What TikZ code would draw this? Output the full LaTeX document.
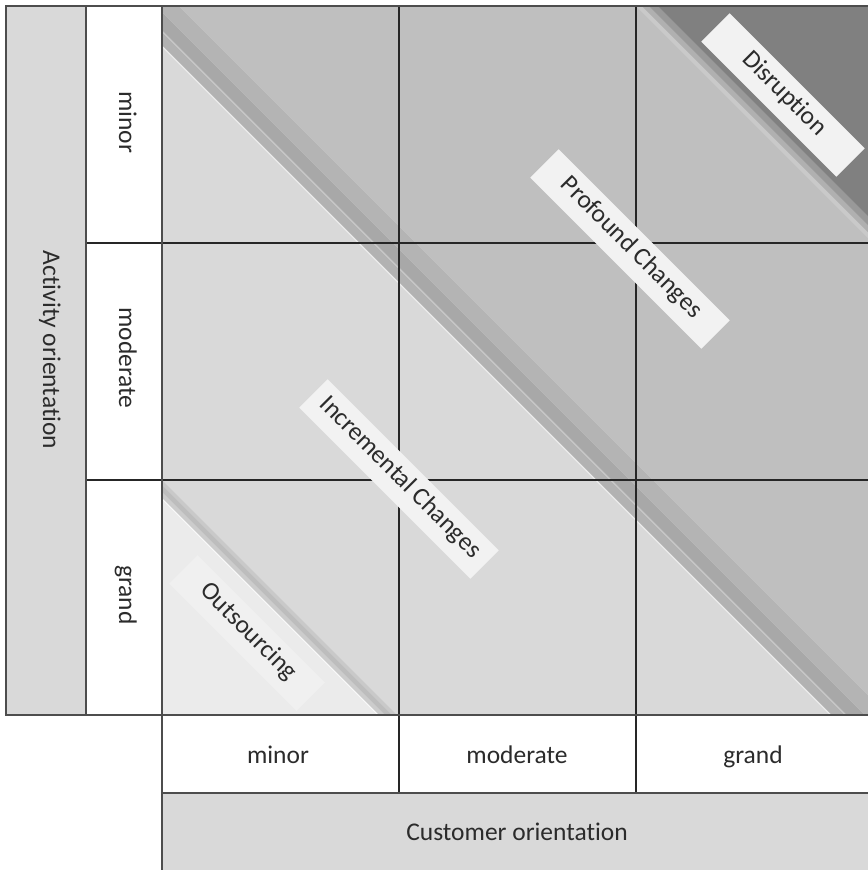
\documentclass[tikz,border=0pt]{standalone}
\usepackage{fontspec}
\setmainfont{Carlito}[Ligatures=NoCommon]
\usepackage{tikz}
\usetikzlibrary{positioning}
\definecolor{lowgray}{HTML}{D9D9D9}
\definecolor{upgray}{HTML}{BFBFBF}
\definecolor{outgray}{HTML}{EBEBEB}
\definecolor{outbox}{HTML}{F0F0F0}
\definecolor{boxgray}{HTML}{F2F2F2}
\definecolor{framegray}{HTML}{4D4D4D}
\definecolor{txtgray}{HTML}{2B2B2B}
\newcommand\diagband[3]{%
\fill[#3] (-1000,{-1000-#1}) -- (2000,{2000-#1}) -- (2000,{2000-#2}) -- (-1000,{-1000-#2}) -- cycle;
}

\begin{document}
\begin{tikzpicture}[x={(0.02cm,0)},y={(0,-0.02cm)},
	every node/.style={font=\fontsize{14.5}{17}\selectfont,text=txtgray,text height=1.6ex,text depth=0.45ex},
	frameline/.style={draw=framegray,line width=1.1pt},
	cellline/.style={draw=black!85,line width=0.9pt},
	tagbox/.style={fill=boxgray,rotate=-45,minimum height=0.8cm,inner sep=0pt}]
	%% pixel units, y pointing down
	\useasboundingbox (0,0) rectangle (868,870);
	
	% axis bars
	\fill[lowgray] (6,6) rectangle (86,715);
	\fill[white] (86,6) rectangle (162,715);
	\fill[white] (162,715) rectangle (868,793);
	\fill[lowgray] (162,793) rectangle (868,870);
	
	% matrix shading along the diagonals
	\begin{scope}
	\clip (162,6) rectangle (868,715);
	\fill[lowgray] (162,6) rectangle (868,715);
	\diagband{115}{117}{gray!15}
	\diagband{117}{130}{gray!60}
	\diagband{130}{132}{gray!45}
	\diagband{132}{150}{gray!68}
	\diagband{150}{173}{gray!59}
	\diagband{173}{3000}{upgray}
	% disruption corner
	\diagband{630}{636}{gray!42}
	\diagband{636}{643}{gray!62}
	\diagband{643}{652}{gray!80}
	\diagband{652}{3000}{gray}
	% outsourcing corner
	\diagband{-323}{-318}{gray!42}
	\diagband{-330}{-323}{gray!52}
	\diagband{-336}{-330}{gray!40}
	\diagband{-338}{-336}{gray!5}
	\diagband{-3000}{-338}{outgray}
	\end{scope}
	
	% cell lines
	\draw[cellline] (399,6) -- (399,793);
	\draw[cellline] (636,6) -- (636,793);
	\draw[cellline] (86,243) -- (868,243);
	\draw[cellline] (86,480) -- (868,480);
	
	% frame
	\draw[frameline] (868,6) -- (6,6) -- (6,715) -- (868,715);
	\draw[frameline] (86,6) -- (86,715);
	\draw[frameline] (162,6) -- (162,870);
	\draw[frameline] (162,793) -- (868,793);
	
	% axis labels
	\node[rotate=-90] (actlbl) at (48,350) {Activity orientation};
	\node[rotate=-90] (rowminor) at (124,122) {minor};
	\node[rotate=-90] (rowmod) at (124,358) {moderate};
	\node[rotate=-90] (rowgrand) at (124,595) {grand};
	\node (colminor) at (278,759) {minor};
	\node (colmod) at (517,759) {moderate};
	\node (colgrand) at (753,759) {grand};
	\node (custlbl) at (517,836) {Customer orientation};
	
	% diagonal tags
	\node[tagbox,minimum width=3.82cm] (disrupt) at (783,95) {Disruption};
	\node[tagbox,minimum width=4.84cm] (profound) at (630,249) {Profound Changes};
	\node[tagbox,minimum width=4.84cm] (increm) at (399,479) {Incremental Changes};
	\node[tagbox,minimum width=3.6cm,fill=outbox] (outsrc) at (247,633) {Outsourcing};
	
\end{tikzpicture}
\end{document}
